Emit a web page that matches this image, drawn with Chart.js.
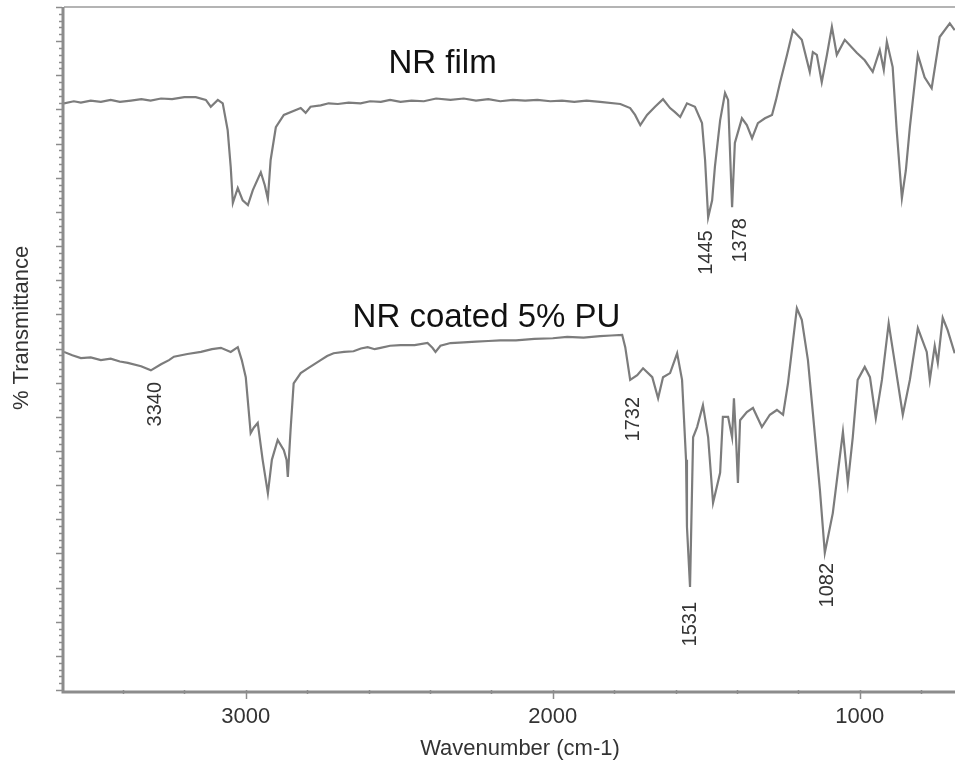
<!DOCTYPE html>
<html>
<head>
<meta charset="utf-8">
<script src="https://cdn.jsdelivr.net/npm/chart.js@4.4.1/dist/chart.umd.min.js"></script>
<style>
  html, body { margin: 0; padding: 0; background: #fff; }
  #wrap { width: 955px; height: 762px; position: relative; }
</style>
</head>
<body>
<div id="wrap"><canvas id="ftirChart"></canvas></div>
<script>
// NR film spectrum (wavenumber cm-1, % transmittance in chart units)
const nrFilmWn = [3592,3560,3537,3505,3472,3440,3410,3374,3340,3310,
    3276,3240,3200,3163,3130,3114,3091,3075,3059,3049,
    3042,3026,3010,2993,2977,2951,2938,2928,2919,2902,
    2876,2821,2805,2789,2756,2730,2700,2665,2626,2595,
    2560,2530,2496,2460,2420,2380,2333,2290,2250,2210,
    2171,2130,2090,2050,2008,1970,1930,1890,1846,1780,
    1748,1732,1715,1693,1667,1641,1618,1602,1585,1563,
    1537,1514,1504,1494,1481,1472,1455,1439,1429,1423,
    1416,1407,1384,1368,1351,1332,1309,1286,1273,1260,
    1237,1218,1189,1163,1153,1140,1124,1107,1091,1075,
    1049,1010,984,958,935,922,912,893,880,863,
    850,837,811,789,766,740,707,691];
const nrFilmT = [85.9,86.2,86.0,86.3,86.1,86.4,86.1,86.3,86.5,86.3,
    86.6,86.5,86.8,86.8,86.4,85.4,86.4,85.9,82.0,76.6,
    71.3,73.5,71.7,71.0,73.2,75.8,73.9,71.9,77.6,82.4,
    84.2,85.2,84.5,85.4,85.6,85.9,85.8,86.0,85.9,86.2,
    86.1,86.4,86.1,86.3,86.2,86.6,86.4,86.6,86.3,86.5,
    86.2,86.4,86.3,86.4,86.2,86.3,86.1,86.3,86.1,85.8,
    85.2,84.2,82.7,84.2,85.4,86.5,85.2,84.6,83.9,85.9,
    85.4,83.0,77.6,69.2,71.7,76.6,83.4,87.4,86.4,79.1,
    70.7,80.1,83.7,82.7,80.8,83.0,83.7,84.2,86.4,88.9,
    93.0,96.6,95.2,90.5,93.4,93.0,89.0,93.0,97.1,93.0,
    95.2,93.3,92.2,90.5,93.7,90.8,94.9,91.2,82.0,72.0,
    76.1,82.4,93.0,89.7,88.1,95.6,97.6,96.6];

// NR coated 5% PU spectrum
const nrPuWn = [3592,3565,3537,3505,3472,3440,3410,3384,3341,3309,
    3276,3250,3234,3190,3146,3110,3081,3049,3026,3013,
    3000,2984,2974,2961,2945,2928,2915,2896,2876,2867,
    2863,2854,2844,2821,2798,2756,2735,2714,2680,2649,
    2625,2603,2580,2561,2530,2496,2450,2408,2392,2382,
    2366,2333,2290,2250,2210,2171,2120,2060,2000,1953,
    1900,1846,1810,1774,1764,1748,1725,1706,1676,1657,
    1641,1618,1595,1579,1566,1563,1553,1543,1530,1511,
    1494,1478,1455,1446,1429,1416,1410,1403,1397,1390,
    1368,1348,1319,1293,1270,1250,1234,1205,1189,1169,
    1153,1130,1114,1088,1055,1039,1023,1007,984,967,
    948,928,906,886,860,837,811,782,772,756,
    746,730,714,691];
const nrPuT = [49.5,49.0,48.6,48.7,48.3,48.5,48.1,47.9,47.4,46.8,
    47.7,48.3,48.8,49.2,49.5,49.9,50.1,49.5,50.2,48.3,
    45.8,37.6,38.4,39.1,33.7,28.8,33.7,36.6,35.1,33.7,
    31.2,38.1,44.9,46.4,47.1,48.3,48.9,49.3,49.5,49.6,
    50.0,50.2,49.9,50.1,50.4,50.5,50.5,50.8,50.1,49.5,
    50.4,50.8,50.9,51.0,51.1,51.2,51.2,51.4,51.5,51.7,
    51.6,51.8,51.9,52.0,50.2,45.4,46.1,47.1,45.8,42.7,
    45.8,46.4,49.3,45.4,33.7,23.9,15.1,37.0,38.5,41.7,
    37.0,27.4,31.8,40.0,40.0,37.0,42.7,36.6,30.3,39.5,
    40.7,41.3,38.5,40.3,41.0,40.3,44.9,55.9,54.2,48.3,
    40.6,29.3,20.1,25.9,37.8,30.3,37.0,45.4,47.3,45.8,
    39.8,45.4,53.7,47.9,40.3,45.4,53.0,49.5,45.4,50.4,
    47.9,54.5,52.7,49.3];

// axis ticks
const xTicks = [3400,3200,3000,2800,2600,2400,2200,2000,1800,1600,1400,1200,1000,800];
const xMajorTicks = [3000,2000,1000];

// text labels: [text, wavenumber, transmittance]
const seriesLabels = [["NR film", 2359, 90.3], ["NR coated 5% PU", 2216, 53.1]];
const peakLabels = [["3340", 3293, 45.1], ["1445", 1498, 67.3], ["1378", 1390, 69.1],
                    ["1732", 1738, 42.9], ["1531", 1553, 12.9], ["1082", 1104, 18.6]];

const FONT = "'Liberation Sans', Arial, sans-serif";

const toPoints = (wn, t) => wn.map((w, i) => ({ x: w, y: t[i] }));

const frame = {
    id: "frame",
    afterDraw(chart) {
        const { ctx, chartArea: a, scales: { x, y } } = chart;
        ctx.save();

        // top border
        ctx.strokeStyle = "#b4b4b4";
        ctx.lineWidth = 2;
        ctx.beginPath();
        ctx.moveTo(a.left, a.top);
        ctx.lineTo(a.right, a.top);
        ctx.stroke();

        // left and bottom axes
        ctx.strokeStyle = "#8c8c8c";
        ctx.lineWidth = 3;
        ctx.beginPath();
        ctx.moveTo(a.left - 1, a.top);
        ctx.lineTo(a.left - 1, a.bottom + 2);
        ctx.lineTo(a.right, a.bottom + 2);
        ctx.stroke();

        // y ticks
        ctx.lineWidth = 1.5;
        for (let v = 0; v <= 100; v += 1) {
            const py = Math.round(y.getPixelForValue(v)) + 0.5;
            const len = v % 5 === 0 ? 6 : 3;
            ctx.beginPath();
            ctx.moveTo(a.left - 2 - len, py);
            ctx.lineTo(a.left - 2, py);
            ctx.stroke();
        }

        // x ticks
        xTicks.forEach(t => {
            const px = Math.round(x.getPixelForValue(t)) + 0.5;
            const major = xMajorTicks.includes(t);
            ctx.beginPath();
            ctx.moveTo(px, a.bottom);
            ctx.lineTo(px, a.bottom + (major ? 9 : 4));
            ctx.stroke();
        });

        // series names
        ctx.fillStyle = "#111";
        ctx.font = "33px " + FONT;
        ctx.textAlign = "center";
        ctx.textBaseline = "alphabetic";
        seriesLabels.forEach(([txt, w, t]) => {
            ctx.fillText(txt, x.getPixelForValue(w), y.getPixelForValue(t));
        });

        // peak labels, rotated
        ctx.fillStyle = "#333";
        ctx.font = "20px " + FONT;
        peakLabels.forEach(([txt, w, t]) => {
            ctx.save();
            ctx.translate(x.getPixelForValue(w), y.getPixelForValue(t));
            ctx.rotate(-Math.PI / 2);
            ctx.textAlign = "right";
            ctx.textBaseline = "middle";
            ctx.fillText(txt, 0, 0);
            ctx.restore();
        });

        // axis titles
        ctx.fillStyle = "#333";
        ctx.font = "22px " + FONT;
        ctx.textAlign = "center";
        ctx.textBaseline = "middle";
        ctx.fillText("Wavenumber (cm-1)", 520, 749);
        ctx.save();
        ctx.translate(22, 328);
        ctx.rotate(-Math.PI / 2);
        ctx.fillText("% Transmittance", 0, 0);
        ctx.restore();

        ctx.restore();
    }
};

new Chart(document.getElementById("ftirChart"), {
    type: "line",
    data: {
        datasets: [
            {
                label: "NR film",
                data: toPoints(nrFilmWn, nrFilmT),
                borderColor: "#7c7c7c",
                borderWidth: 2.2,
                pointRadius: 0,
                tension: 0
            },
            {
                label: "NR coated 5% PU",
                data: toPoints(nrPuWn, nrPuT),
                borderColor: "#7c7c7c",
                borderWidth: 2.2,
                pointRadius: 0,
                tension: 0
            }
        ]
    },
    options: {
        responsive: true,
        maintainAspectRatio: false,
        animation: false,
        layout: { padding: { left: 64, top: 7, right: 0, bottom: 0 } },
        plugins: {
            legend: { display: false },
            tooltip: { enabled: false }
        },
        scales: {
            x: {
                type: "linear",
                reverse: true,
                min: 690,
                max: 3592,
                afterFit: s => { s.height = 72; },
                afterBuildTicks: s => { s.ticks = xTicks.map(v => ({ value: v })); },
                grid: { drawOnChartArea: false, drawTicks: false },
                border: { display: false },
                ticks: {
                    autoSkip: false,
                    maxRotation: 0,
                    padding: 14,
                    color: "#333",
                    font: { family: FONT, size: 22 },
                    callback: v => xMajorTicks.includes(v) ? String(v) : ""
                }
            },
            y: {
                display: false,
                min: 0,
                max: 100
            }
        }
    },
    plugins: [frame]
});
</script>
</body>
</html>
